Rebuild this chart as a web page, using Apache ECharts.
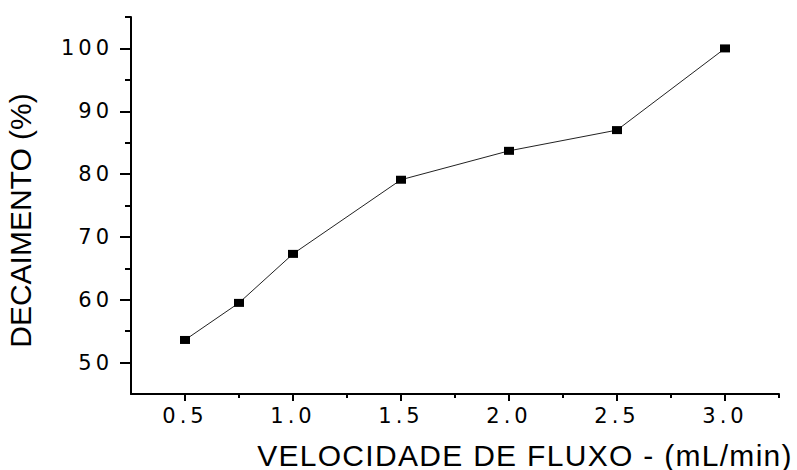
<!DOCTYPE html>
<html>
<head>
<meta charset="utf-8">
<script src="https://cdn.jsdelivr.net/npm/echarts@6/dist/echarts.min.js"></script>
<style>
  html, body { margin: 0; padding: 0; background: #fff; }
  #chart { width: 797px; height: 470px; }
</style>
</head>
<body>
<div id="chart"></div>
<script>
// Flow velocity (mL/min) vs. decay (%)
const velocidade = [0.5, 0.75, 1.0, 1.5, 2.0, 2.5, 3.0];
const decaimento = [53.6, 59.5, 67.3, 79.1, 83.7, 87.0, 100];

const xMajor = [0.5, 1.0, 1.5, 2.0, 2.5, 3.0];
const xMinor = [0.75, 1.25, 1.75, 2.25, 2.75, 3.25];
const yMajor = [50, 60, 70, 80, 90, 100];
const yMinor = [55, 65, 75, 85, 95, 105];

const xName = 'VELOCIDADE DE FLUXO - (mL/min)';
const yName = 'DECAIMENTO (%)';

const tickFont = { fontFamily: 'DejaVu Sans', fontSize: 21, color: '#000' };

const chart = echarts.init(document.getElementById('chart'), null, { renderer: 'svg' });

chart.setOption({
  animation: false,
  backgroundColor: '#fff',
  grid: { left: 131, right: 18, top: 17, bottom: 76, outerBoundsMode: 'none', containLabel: false },
  xAxis: [
    {
      type: 'value', min: 0.25, max: 3.25,
      axisLine: { lineStyle: { color: '#000', width: 2 } },
      axisTick: { customValues: xMajor, length: 7, lineStyle: { color: '#000', width: 2 } },
      axisLabel: Object.assign({ customValues: xMajor, margin: 11, formatter: v => v.toFixed(1) }, tickFont),
      splitLine: { show: false },
      name: xName, nameLocation: 'middle', nameGap: 46,
      nameTextStyle: { fontFamily: 'Liberation Sans', fontSize: 30, color: '#000', padding: [0, 0, 0, 140] }
    },
    {
      type: 'value', min: 0.25, max: 3.25, position: 'bottom',
      axisLine: { show: false },
      axisTick: { customValues: xMinor, length: 4, lineStyle: { color: '#000', width: 2 } },
      axisLabel: { show: false },
      splitLine: { show: false }
    }
  ],
  yAxis: [
    {
      type: 'value', min: 45, max: 105,
      axisLine: { show: true, lineStyle: { color: '#000', width: 2 } },
      axisTick: { show: true, customValues: yMajor, length: 11, lineStyle: { color: '#000', width: 2 } },
      axisLabel: Object.assign({ customValues: yMajor, margin: 18 }, tickFont),
      splitLine: { show: false },
      name: yName, nameLocation: 'middle', nameGap: 96,
      nameTextStyle: { fontFamily: 'Liberation Sans', fontSize: 30, color: '#000', padding: [0, 30, 0, 0] }
    },
    {
      type: 'value', min: 45, max: 105, position: 'left',
      axisLine: { show: false },
      axisTick: { show: true, customValues: yMinor, length: 6, lineStyle: { color: '#000', width: 2 } },
      axisLabel: { show: false },
      splitLine: { show: false }
    }
  ],
  series: [{
    type: 'line',
    data: velocidade.map((v, i) => [v, decaimento[i]]),
    symbol: 'rect',
    symbolSize: [10, 8],
    showAllSymbol: true,
    itemStyle: { color: '#000' },
    lineStyle: { color: '#222', width: 1 }
  }]
});

// Spread out the characters of tick labels and the x-axis title
function spaceLetters() {
  document.querySelectorAll('#chart svg text').forEach(t => {
    const s = t.textContent;
    if (/^\d+(\.\d+)?$/.test(s)) t.setAttribute('letter-spacing', '4');
    else if (s === xName) t.setAttribute('letter-spacing', '1.3');
  });
}
chart.on('finished', spaceLetters);
spaceLetters();
</script>
</body>
</html>
